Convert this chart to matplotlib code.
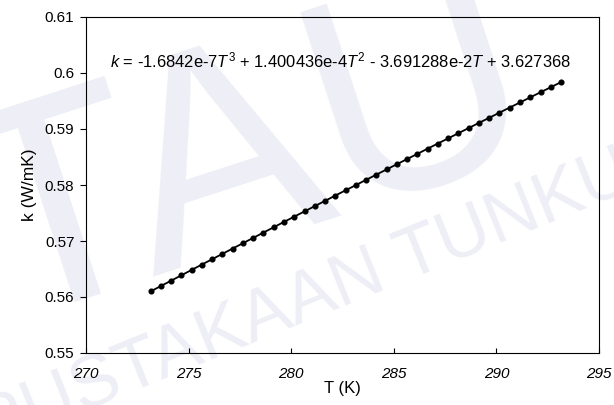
import matplotlib
matplotlib.use("Agg")
import matplotlib.pyplot as plt

plt.rcParams['font.family'] = ['Liberation Sans', 'DejaVu Sans']
plt.rcParams['mathtext.fontset'] = 'custom'
plt.rcParams['mathtext.it'] = 'Liberation Sans:italic'
plt.rcParams['mathtext.rm'] = 'Liberation Sans'

# Temperature (K) and thermal conductivity k (W/mK)
temperature = [273.15, 273.65, 274.15, 274.65, 275.15, 275.65, 276.15, 276.65,
               277.15, 277.65, 278.15, 278.65, 279.15, 279.65, 280.15, 280.65,
               281.15, 281.65, 282.15, 282.65, 283.15, 283.65, 284.15, 284.65,
               285.15, 285.65, 286.15, 286.65, 287.15, 287.65, 288.15, 288.65,
               289.15, 289.65, 290.15, 290.65, 291.15, 291.65, 292.15, 292.65,
               293.15]
conductivity = [0.56100, 0.56196, 0.56292, 0.56388, 0.56484, 0.56580, 0.56675,
                0.56771, 0.56866, 0.56961, 0.57056, 0.57151, 0.57246, 0.57341,
                0.57435, 0.57529, 0.57623, 0.57717, 0.57811, 0.57905, 0.57998,
                0.58092, 0.58185, 0.58278, 0.58371, 0.58464, 0.58556, 0.58649,
                0.58741, 0.58833, 0.58925, 0.59017, 0.59109, 0.59200, 0.59292,
                0.59383, 0.59474, 0.59565, 0.59656, 0.59746, 0.59837]

x_ticks = [270, 275, 280, 285, 290, 295]
y_ticks = [0.55, 0.56, 0.57, 0.58, 0.59, 0.60, 0.61]
y_tick_labels = ['0.55', '0.56', '0.57', '0.58', '0.59', '0.6', '0.61']

equation = (r'$k$ = -1.6842e-7$T^3$ + 1.400436e-4$T^2$'
            r' - 3.691288e-2$T$ + 3.627368')

fig = plt.figure(figsize=(6.14, 4.05), dpi=100)
fig.patch.set_facecolor('white')

# library watermark, kept behind the axes
wm_color = '#eeeef6'
fig.text(-0.02, -0.11, 'PUSTAKAAN TUNKU TUN AMINAH', fontsize=52,
         color=wm_color, rotation=22, rotation_mode='anchor',
         ha='left', va='baseline', zorder=-5)
fig.text(0.0, 0.20, 'TAU', fontsize=215, color=wm_color, rotation=18,
         rotation_mode='anchor', ha='left', va='baseline', zorder=-5)

ax = fig.add_axes([86 / 614, 52 / 405, 513 / 614, 336 / 405])
ax.set_facecolor('none')

ax.plot(temperature, conductivity, color='black', lw=1.3, marker='o',
        markersize=3.4, markerfacecolor='black', markeredgecolor='black',
        zorder=3)

ax.set_xlim(270, 295)
ax.set_ylim(0.55, 0.61)
ax.set_xticks(x_ticks)
ax.set_yticks(y_ticks)
ax.set_yticklabels(y_tick_labels)
ax.tick_params(axis='x', direction='in', length=3.5, width=0.8,
               labelsize=11, pad=10)
ax.tick_params(axis='y', direction='out', length=4.3, width=0.8,
               labelsize=11, pad=4)
for lab in ax.get_xticklabels():
    lab.set_fontstyle('italic')
for sp in ax.spines.values():
    sp.set_linewidth(0.8)
    sp.set_color('black')

ax.set_xlabel('T (K)', fontsize=12, labelpad=0)
ax.set_ylabel('k (W/mK)', fontsize=12.5, labelpad=6)

ax.text(0.047, 0.872, equation, transform=ax.transAxes, fontsize=11.9,
        ha='left', va='center')

fig.savefig('out.png', dpi=100, facecolor='white')
